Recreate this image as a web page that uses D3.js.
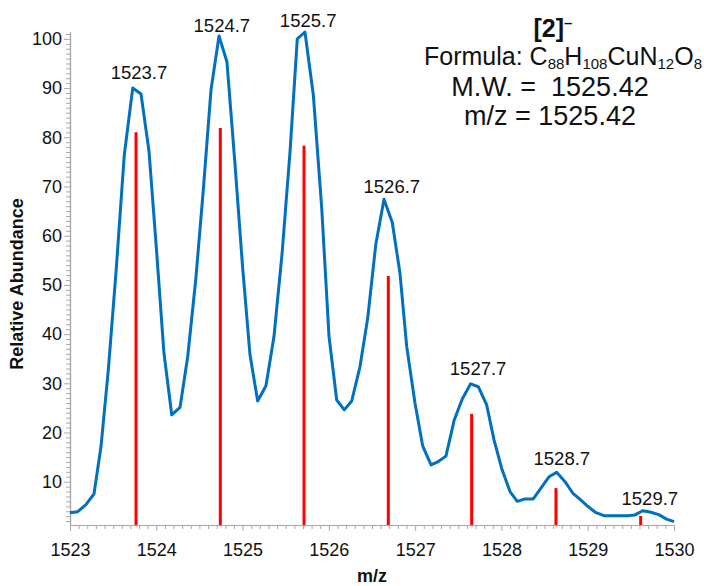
<!DOCTYPE html>
<html>
<head>
<meta charset="utf-8">
<script src="https://cdn.jsdelivr.net/npm/d3@7/dist/d3.min.js"></script>
<style>
  body { margin: 0; background: #fff; }
  svg { display: block; font-family: "Liberation Sans", Arial, sans-serif; }
</style>
</head>
<body>
<svg id="chart" width="704" height="586"></svg>
<script>
// Measured profile (blue line)
const profileMz = [
  1523.000, 1523.089, 1523.182, 1523.278, 1523.359, 1523.444, 1523.535, 1523.629, 1523.727, 1523.823,
  1523.916, 1524.005, 1524.089, 1524.179, 1524.275, 1524.364, 1524.457, 1524.545, 1524.634, 1524.727,
  1524.819, 1524.912, 1524.999, 1525.086, 1525.175, 1525.271, 1525.364, 1525.460, 1525.550, 1525.634,
  1525.723, 1525.820, 1525.917, 1526.002, 1526.091, 1526.179, 1526.265, 1526.361, 1526.450, 1526.543,
  1526.639, 1526.735, 1526.824, 1526.902, 1526.998, 1527.087, 1527.184, 1527.268, 1527.357, 1527.454,
  1527.546, 1527.643, 1527.732, 1527.829, 1527.914, 1528.003, 1528.099, 1528.184, 1528.273, 1528.369,
  1528.458, 1528.551, 1528.640, 1528.737, 1528.826, 1528.918, 1529.007, 1529.096, 1529.188, 1529.278,
  1529.374, 1529.458, 1529.548, 1529.637, 1529.733, 1529.829, 1529.914, 1530.000
];
const profileAbundance = [
  3.7, 3.9, 5.3, 7.5, 17.1, 32.7, 53.0, 76.4, 90.0, 88.8,
  77.1, 56.5, 36.1, 23.6, 25.1, 35.4, 51.0, 69.3, 89.6, 100.6,
  95.3, 74.6, 53.9, 35.8, 26.4, 29.5, 39.5, 56.8, 77.1, 100.0,
  101.4, 88.6, 65.7, 39.5, 26.6, 24.6, 26.4, 33.4, 43.2, 58.1,
  67.4, 62.7, 52.4, 37.5, 26.0, 17.3, 13.4, 14.1, 15.2, 22.6,
  26.8, 29.9, 29.3, 25.6, 18.5, 12.7, 8.0, 6.0, 6.5, 6.5,
  8.7, 11.0, 11.9, 10.0, 7.7, 6.3, 4.9, 3.7, 3.1, 3.1,
  3.1, 3.1, 3.25, 4.1, 3.8, 3.25, 2.4, 1.9
];

// Simulated isotope pattern (red sticks)
const stickMz = [1523.765, 1524.742, 1525.712, 1526.689, 1527.655, 1528.632, 1529.614];
const stickAbundance = [81.0, 81.9, 78.3, 51.8, 23.8, 8.7, 3.05];

// Peak labels
const peakLabels = ["1523.7", "1524.7", "1525.7", "1526.7", "1527.7", "1528.7", "1529.7"];
const peakLabelMz = [1523.80, 1524.76, 1525.76, 1526.73, 1527.73, 1528.70, 1529.72];
const peakLabelAbundance = [91.8, 101.3, 102.5, 68.7, 31.6, 13.3, 5.2];

// Axis ticks
const xTicks = [1523, 1524, 1525, 1526, 1527, 1528, 1529, 1530];
const yTicks = [10, 20, 30, 40, 50, 60, 70, 80, 90, 100];
const xDomain = [1523, 1530];
const yDomain = [1.2, 101.4];

const svg = d3.select("#chart");
const x = d3.scaleLinear().domain(xDomain).range([70, 674]);
const y = d3.scaleLinear().domain(yDomain).range([525, 32]);

const axisColor = "#a8a8a8";

// Minor ticks
const xMinor = d3.range(1523, 1530.0001, 0.1).map(v => +v.toFixed(1)).filter(v => !xTicks.includes(v));
const yMinor = d3.range(2, 102, 1).filter(v => !yTicks.includes(v));

const gxMinor = svg.append("g").attr("transform", "translate(0,525)")
  .call(d3.axisBottom(x).tickValues(xMinor).tickSize(4).tickSizeOuter(0).tickFormat(""));
const gyMinor = svg.append("g").attr("transform", "translate(70,0)")
  .call(d3.axisLeft(y).tickValues(yMinor).tickSize(4).tickSizeOuter(0).tickFormat(""));

const gx = svg.append("g").attr("transform", "translate(0,525)")
  .call(d3.axisBottom(x).tickValues(xTicks).tickSize(6).tickSizeOuter(0).tickPadding(12).tickFormat(d3.format("d")));
const gy = svg.append("g").attr("transform", "translate(70,0)")
  .call(d3.axisLeft(y).tickValues(yTicks).tickSize(6).tickSizeOuter(0).tickPadding(2).tickFormat(d3.format("d")));

[gxMinor, gyMinor, gx, gy].forEach(g => {
  g.selectAll("path.domain").attr("stroke", axisColor).attr("stroke-width", 1.2);
  g.selectAll(".tick line").attr("stroke", axisColor).attr("stroke-width", 1);
  g.selectAll(".tick text").attr("fill", "#111").attr("font-size", 18)
    .attr("font-family", "'Liberation Sans', Arial, sans-serif");
});

// Sticks
svg.append("g").selectAll("line").data(stickMz).join("line")
  .attr("x1", d => x(d)).attr("x2", d => x(d))
  .attr("y1", y(yDomain[0])).attr("y2", (d, i) => y(stickAbundance[i]))
  .attr("stroke", "#ff0000").attr("stroke-width", 3);

// Profile line
const line = d3.line().x(d => x(d[0])).y(d => y(d[1]));
svg.append("path")
  .datum(profileMz.map((m, i) => [m, profileAbundance[i]]))
  .attr("d", line)
  .attr("fill", "none").attr("stroke", "#0070c0").attr("stroke-width", 3)
  .attr("stroke-linejoin", "round");

// Peak labels
svg.append("g").selectAll("text").data(peakLabels).join("text")
  .attr("x", (d, i) => x(peakLabelMz[i]))
  .attr("y", (d, i) => y(peakLabelAbundance[i]))
  .attr("text-anchor", "middle").attr("font-size", 18.5).attr("fill", "#111")
  .text(d => d);

// Axis titles
svg.append("text").attr("x", 372).attr("y", 582).attr("text-anchor", "middle")
  .attr("font-size", 18).attr("font-weight", "bold").attr("fill", "#111").text("m/z");
svg.append("text").attr("transform", "translate(23,284) rotate(-90)").attr("text-anchor", "middle")
  .attr("font-size", 18).attr("font-weight", "bold").attr("fill", "#111").text("Relative Abundance");

// Annotation block
const ann = svg.append("g").attr("fill", "#111");
const t0 = ann.append("text").attr("x", 553).attr("y", 37).attr("text-anchor", "middle")
  .attr("font-size", 25).attr("font-weight", "bold");
t0.append("tspan").text("[2]");
t0.append("tspan").attr("dy", -9).attr("font-size", 15).text("\u2013");

const formulaParts = [["Formula: C", false], ["88", true], ["H", false], ["108", true], ["Cu", false],
  ["N", false], ["12", true], ["O", false], ["8", true]];
const t1 = ann.append("text").attr("x", 563).attr("y", 65).attr("text-anchor", "middle").attr("font-size", 25);
let sub = false;
formulaParts.forEach(([txt, isSub]) => {
  const ts = t1.append("tspan").text(txt);
  if (isSub && !sub) { ts.attr("dy", 4).attr("font-size", 15); sub = true; }
  else if (isSub) { ts.attr("font-size", 15); }
  else if (!isSub && sub) { ts.attr("dy", -4); sub = false; }
});
ann.append("text").attr("x", 550).attr("y", 96).attr("text-anchor", "middle").attr("font-size", 27)
  .style("white-space", "pre").text("M.W. =  1525.42");
ann.append("text").attr("x", 550).attr("y", 125).attr("text-anchor", "middle").attr("font-size", 27)
  .text("m/z = 1525.42");
</script>
</body>
</html>
